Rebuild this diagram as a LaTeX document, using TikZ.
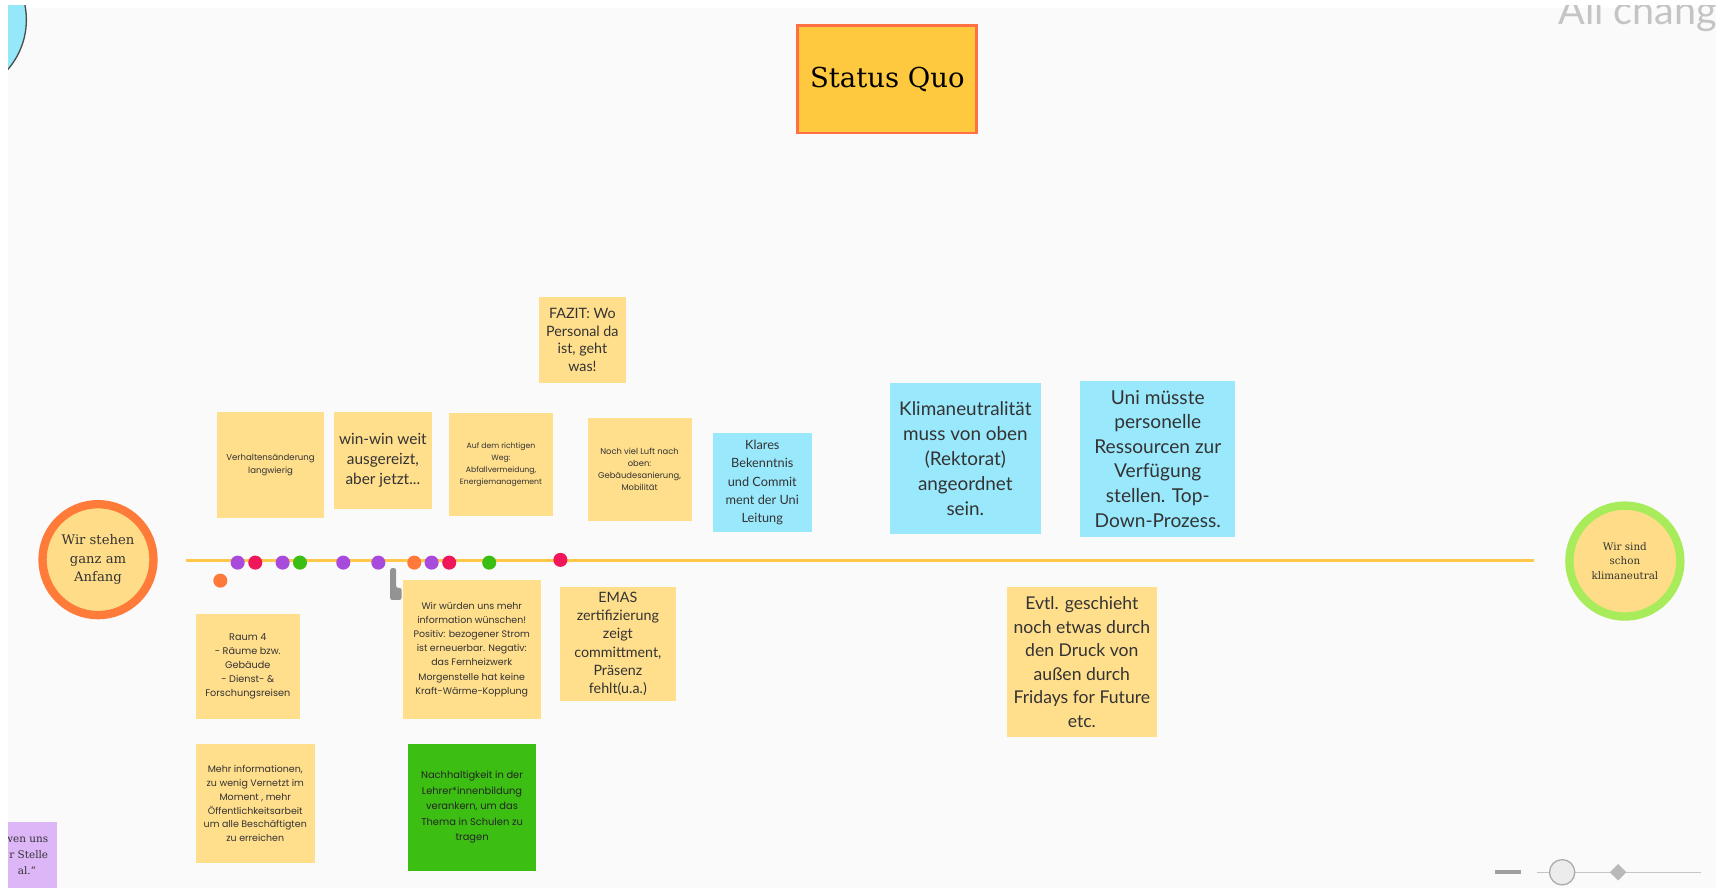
\documentclass[tikz,border=0pt]{standalone}
\usepackage{fontspec}
\setmainfont{Lato}
\newfontfamily\slab{DejaVu Serif}
\newfontfamily\geo{Poppins}
\usetikzlibrary{shapes.geometric}
\newcommand{\myfs}[2]{\fontsize{#1}{#2}\selectfont}
\definecolor{canvas}{HTML}{FAFAFA}
\definecolor{noteyel}{HTML}{FFDE8C}
\definecolor{noteblue}{HTML}{9AE8FC}
\definecolor{notegreen}{HTML}{3CBE13}
\definecolor{notepurple}{HTML}{DDB6F7}
\definecolor{sqfill}{HTML}{FFC93F}
\definecolor{sqborder}{HTML}{FF7043}
\definecolor{ringorange}{HTML}{FF7B3A}
\definecolor{ringgreen}{HTML}{A8EC5C}
\definecolor{circfill}{HTML}{FFDD88}
\definecolor{tline}{HTML}{FFC84A}
\definecolor{dpurple}{HTML}{A84BDD}
\definecolor{dred}{HTML}{EF1759}
\definecolor{dgreen}{HTML}{3BBE13}
\definecolor{dorange}{HTML}{FF7A3A}
\definecolor{txt}{HTML}{333333}
\definecolor{cyancirc}{HTML}{95E8FA}
\definecolor{allgray}{HTML}{C4C4C4}
\begin{document}
\begin{tikzpicture}[x=1pt,y=-1pt,
  note/.style={rectangle, inner sep=0pt, align=center, text=txt},
  ynote/.style={note, fill=noteyel},
  bnote/.style={note, fill=noteblue},
  gnote/.style={note, fill=notegreen, text=black!85},
  dot/.style={circle, fill=#1, inner sep=0pt, minimum size=12.8pt},
  ring/.style={circle, fill=circfill, draw=#1, line width=7.6pt, inner sep=0pt, align=center, text=txt, minimum size=101pt},
  tl/.style={draw=tline, line width=2.4pt}
]
\useasboundingbox (0,0) rectangle (1568,808);
\fill[white] (0,0) rectangle (1568,808);
\fill[canvas] (7.3,7.6) rectangle (1562,808);
\begin{scope}
  \clip (7.3,5) rectangle (1562,808);
  \filldraw[fill=cyancirc, draw=gray!60!black, line width=1.2pt] (-45,18) circle (69);
  \node[anchor=base west, inner sep=0pt, text=allgray, font=\myfs{36}{40}] (allch) at (1418,22) {All chang};
  \fill[notepurple] (7.3,747.7) rectangle (52.2,808);
  \node[anchor=base east, inner sep=0pt, text=txt, font=\slab\myfs{9.5}{10}] (pu1) at (44,766.5) {wen uns};
  \node[anchor=base east, inner sep=0pt, text=txt, font=\slab\myfs{9.5}{10}] (pu2) at (44,781) {r Stelle};
  \node[anchor=base east, inner sep=0pt, text=txt, font=\slab\myfs{9.5}{10}] (pu3) at (33,795.5) {al.“};
\end{scope}

% Status Quo
\node[rectangle, fill=sqfill, draw=sqborder, line width=2.6pt, minimum width=163pt, minimum height=98pt, inner sep=0pt, text=black, font=\slab\myfs{25}{28}] (sq) at (807.5,72) {Status Quo};

% timeline
\coordinate (ls) at (169,510.2);
\coordinate (le) at (1395.8,510.2);
\draw[tl] (ls) -- (le);

% end circles
\node[ring=ringorange, font=\slab\myfs{12}{16.7}] (start) at (89.2,509.3) {Wir stehen\\ganz am\\Anfang};
\node[ring=ringgreen, font=\slab\myfs{9.4}{12.9}] (ende) at (1478.7,510.6) {Wir sind\\schon\\klimaneutral};

% dots
\node[dot=dorange] (o0) at (200.5,528.4) {};
\node[dot=dpurple] (d1) at (216.3,512) {};
\node[dot=dred] (d2) at (232.3,512) {};
\node[dot=dpurple] (d3) at (257.2,512) {};
\node[dot=dgreen] (d4) at (273,512) {};
\node[dot=dpurple] (d5) at (312.4,512) {};
\node[dot=dpurple] (d6) at (344.3,512) {};
\node[dot=dorange] (d7) at (377,512) {};
\node[dot=dpurple] (d8) at (392.8,512) {};
\node[dot=dred] (d9) at (408.8,512) {};
\node[dot=dgreen] (d10) at (445.2,512) {};
\node[dot=dred] (d11) at (510,509.5) {};

% cursor mark
\fill[gray!85, rounded corners=2pt] (355,517) -- (360.5,517) -- (360.5,535) -- (365.5,535) -- (365.5,546) -- (355,546) -- cycle;

% upper notes
\node[ynote, minimum width=97pt, minimum height=97pt, font=\geo\myfs{7.8}{11.5}] (n1) at (246.2,423.1) {Verhaltensänderung\\langwierig};
\node[ynote, minimum width=89pt, minimum height=89pt, font=\myfs{14}{17.9}] (n2) at (348.4,419) {win-win weit\\ausgereizt,\\aber jetzt...};
\node[ynote, minimum width=94pt, minimum height=94pt, font=\geo\myfs{7}{11}] (n3) at (455.9,423) {Auf dem richtigen\\Weg:\\Abfallvermeidung,\\Energiemanagement};
\node[ynote, minimum width=78.6pt, minimum height=78.8pt, font=\myfs{13}{16}] (n4) at (530,309.4) {FAZIT: Wo\\Personal da\\ist, geht\\was!};
\node[ynote, minimum width=94.7pt, minimum height=94pt, font=\geo\myfs{7.6}{11}] (n5) at (582,427) {Noch viel Luft nach\\oben:\\Gebäudesanierung,\\Mobilität};
\node[bnote, minimum width=90.4pt, minimum height=90pt, font=\myfs{11.6}{16.7}] (n6) at (693.7,439.3) {Klares\\Bekenntnis\\und Commit\\ment der Uni\\Leitung};
\node[bnote, minimum width=137.4pt, minimum height=137.4pt, font=\myfs{17.2}{22.7}] (n7) at (878.5,417.5) {Klimaneutralität\\muss von oben\\(Rektorat)\\angeordnet\\sein.};
\node[bnote, minimum width=140.7pt, minimum height=141.6pt, font=\myfs{17.4}{22.4}] (n8) at (1053.6,417.5) {Uni müsste\\personelle\\Ressourcen zur\\Verfügung\\stellen. Top-\\Down-Prozess.};

% lower notes
\node[ynote, minimum width=95pt, minimum height=95.5pt, font=\geo\myfs{8.8}{12.7}] (n9) at (225.5,606.4) {Raum 4\\- Räume bzw.\\Gebäude\\- Dienst- \&\\Forschungsreisen};
\node[ynote, minimum width=126pt, minimum height=126.4pt, font=\geo\myfs{8.6}{12.9}] (n10) at (429.3,591) {Wir würden uns mehr\\information wünschen!\\Positiv: bezogener Strom\\ist erneuerbar. Negativ:\\das Fernheizwerk\\Morgenstelle hat keine\\Kraft-Wärme-Kopplung};
\node[ynote, minimum width=105.5pt, minimum height=103.2pt, font=\myfs{13}{16.7}] (n11) at (562.3,586) {EMAS\\zertifizierung\\zeigt\\committment,\\Präsenz\\fehlt(u.a.)};
\node[ynote, minimum width=108.6pt, minimum height=108.5pt, font=\geo\myfs{8.6}{12.7}] (n12) at (232.3,731.2) {Mehr informationen,\\zu wenig Vernetzt im\\Moment , mehr\\Öffentlichkeitsarbeit\\um alle Beschäftigten\\zu erreichen};
\node[gnote, minimum width=116pt, minimum height=115.5pt, font=\geo\myfs{9}{14}] (n13) at (429.6,734.7) {Nachhaltigkeit in der\\Lehrer*innenbildung\\verankern, um das\\Thema in Schulen zu\\tragen};
\node[ynote, minimum width=137pt, minimum height=137pt, font=\myfs{16}{21.5}] (n14) at (984.5,602.5) {Evtl. geschieht\\noch etwas durch\\den Druck von\\außen durch\\Fridays for Future\\etc.};

% zoom control
\fill[gray!75] (1360.4,791.6) rectangle (1383.7,795.6);
\coordinate (zl) at (1398.8,793.8);
\coordinate (zr) at (1548.4,793.8);
\draw[gray!45, line width=0.8pt] (zl) -- (zr);
\node[diamond, fill=gray!55, inner sep=0pt, minimum size=15.2pt] (zd) at (1472.6,793.8) {};
\node[circle, fill=gray!15, draw=gray!65, line width=1.2pt, inner sep=0pt, minimum size=23pt] (zc) at (1421.6,793.8) {};
\end{tikzpicture}
\end{document}
